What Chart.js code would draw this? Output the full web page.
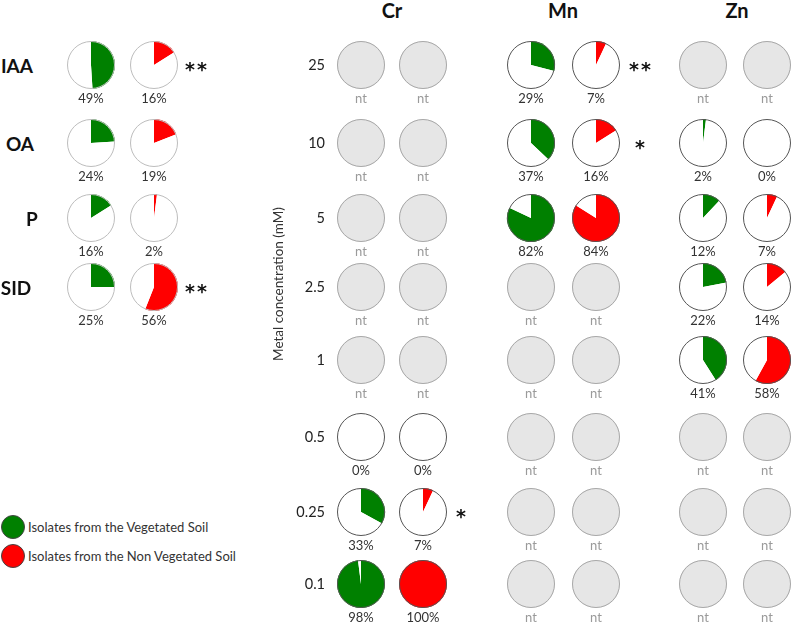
<!DOCTYPE html>
<html>
<head>
<meta charset="utf-8">
<script src="https://cdn.jsdelivr.net/npm/chart.js@4"></script>
<style>
  html, body { margin: 0; padding: 0; background: #fff; }
  #stage { position: relative; width: 792px; height: 625px; overflow: hidden; font-family: Lato, "Open Sans", sans-serif; color: #222; }
  .pie { position: absolute; }
  .txt { position: absolute; transform: translate(-50%, -50%); white-space: nowrap; line-height: 1; }
  .rtxt { position: absolute; transform: translate(-100%, -50%); white-space: nowrap; line-height: 1; }
  .pct { font-size: 13px; color: #333; }
  .nt { font-size: 13px; color: #9a9a9a; }
  .title { font-size: 20px; font-weight: bold; color: #111; }
  .trait { font-size: 19px; font-weight: bold; color: #111; }
  .row { font-size: 14.5px; color: #222; }
  .sig { font-family: "DejaVu Sans", sans-serif; font-size: 19px; font-weight: bold; color: #111; letter-spacing: 2px; }
  .dot { position: absolute; width: 22px; height: 22px; border-radius: 50%; border: 1px solid #444; }
  .leg { position: absolute; font-size: 13px; color: #333; transform: translateY(-50%); white-space: nowrap; line-height: 1; }
</style>
</head>
<body>
<div id="stage"></div>
<script>
// ---- data ----
const rowLabels = ['25', '10', '5', '2.5', '1', '0.5', '0.25', '0.1'];
const metals = ['Cr', 'Mn', 'Zn'];

// null = not tested (nt)
const crVeg    = [null, null, null, null, null, 0, 33, 98];
const crNonVeg = [null, null, null, null, null, 0, 7, 100];
const crSig    = ['', '', '', '', '', '', '*', ''];

const mnVeg    = [29, 37, 82, null, null, null, null, null];
const mnNonVeg = [7, 16, 84, null, null, null, null, null];
const mnSig    = ['**', '*', '', '', '', '', '', ''];

const znVeg    = [null, 2, 12, 22, 41, null, null, null];
const znNonVeg = [null, 0, 7, 14, 58, null, null, null];
const znSig    = ['', '', '', '', '', '', '', ''];

const traits      = ['IAA', 'OA', 'P', 'SID'];
const traitVeg    = [49, 24, 16, 25];
const traitNonVeg = [16, 19, 2, 56];
const traitSig    = ['**', '', '', '**'];

const legendLabels = ['Isolates from the Vegetated Soil', 'Isolates from the Non Vegetated Soil'];

// ---- layout ----
const GREEN = '#008000', RED = '#ff0000', NT_FILL = '#e6e6e6';
const rowY   = [65, 143, 218, 287, 360, 437, 512, 584];
const colX   = { Cr: [361, 423], Mn: [531, 596], Zn: [703, 767] };
const titleX = { Cr: 392, Mn: 563, Zn: 737 };
const sigX   = { Cr: 462, Mn: 641, Zn: 800 };
const traitX = [17, 20, 32, 16];
const traitPieX = [91, 154];

const stage = document.getElementById('stage');

// outline drawn around each pie (no radial borders)
const outlinePlugin = {
  id: 'outline',
  afterDatasetsDraw(chart, args, opts) {
    const arc = chart.getDatasetMeta(0).data[0];
    if (!arc) return;
    const ctx = chart.ctx;
    ctx.save();
    ctx.beginPath();
    ctx.arc(arc.x, arc.y, arc.outerRadius - 0.5, 0, Math.PI * 2);
    ctx.lineWidth = 1;
    ctx.strokeStyle = opts.color;
    ctx.stroke();
    ctx.restore();
  }
};

function addText(cls, text, x, y, right) {
  const d = document.createElement('div');
  d.className = (right ? 'rtxt ' : 'txt ') + cls;
  d.textContent = text;
  d.style.left = x + 'px';
  d.style.top = y + 'px';
  stage.appendChild(d);
}

function addPie(cx, cy, value, color, edge) {
  const c = document.createElement('canvas');
  c.className = 'pie';
  c.width = 50; c.height = 50;
  c.style.left = (cx - 25) + 'px';
  c.style.top = (cy - 25) + 'px';
  c.style.width = '50px'; c.style.height = '50px';
  stage.appendChild(c);

  const nt = value === null;
  new Chart(c, {
    type: 'pie',
    data: {
      datasets: [{
        data: nt ? [1] : [value, 100 - value],
        backgroundColor: nt ? [NT_FILL] : [color, '#ffffff'],
        borderWidth: 0
      }]
    },
    options: {
      responsive: false, animation: false, events: [],
      layout: { padding: 1 },
      plugins: { legend: { display: false }, tooltip: { enabled: false }, outline: { color: nt ? '#a8a8a8' : edge } }
    },
    plugins: [outlinePlugin]
  });

  if (nt) addText('nt', 'nt', cx, cy + 33);
  else addText('pct', value + '%', cx, cy + 33);
}

// left panel: traits
traits.forEach(function(t, i) {
  const y = rowY[i];
  addText('trait', t, traitX[i], y);
  addPie(traitPieX[0], y, traitVeg[i], GREEN, '#bdbdbd');
  addPie(traitPieX[1], y, traitNonVeg[i], RED, '#bdbdbd');
  if (traitSig[i]) addText('sig', traitSig[i], 197, y + 4);
});

// right panel: metals
const metalData = {
  Cr: [crVeg, crNonVeg, crSig],
  Mn: [mnVeg, mnNonVeg, mnSig],
  Zn: [znVeg, znNonVeg, znSig]
};

metals.forEach(function(m) {
  addText('title', m, titleX[m], 10);
  const d = metalData[m];
  rowLabels.forEach(function(r, i) {
    addPie(colX[m][0], rowY[i], d[0][i], GREEN, '#555555');
    addPie(colX[m][1], rowY[i], d[1][i], RED, '#555555');
    if (d[2][i]) addText('sig', d[2][i], sigX[m], rowY[i] + 4);
  });
});

rowLabels.forEach(function(r, i) { addText('row', r, 325, rowY[i], true); });

// y axis title
const yt = document.createElement('div');
yt.className = 'txt';
yt.textContent = 'Metal concentration (mM)';
yt.style.cssText += 'left:279px;top:284px;font-size:13.5px;color:#333;transform:translate(-50%,-50%) rotate(-90deg);';
stage.appendChild(yt);

// legend
[GREEN, RED].forEach(function(col, i) {
  const y = i === 0 ? 527 : 556;
  const dot = document.createElement('div');
  dot.className = 'dot';
  dot.style.background = col;
  dot.style.left = '1px';
  dot.style.top = (y - 12) + 'px';
  stage.appendChild(dot);
  const l = document.createElement('div');
  l.className = 'leg';
  l.textContent = legendLabels[i];
  l.style.left = '28px';
  l.style.top = y + 'px';
  stage.appendChild(l);
});
</script>
</body>
</html>
